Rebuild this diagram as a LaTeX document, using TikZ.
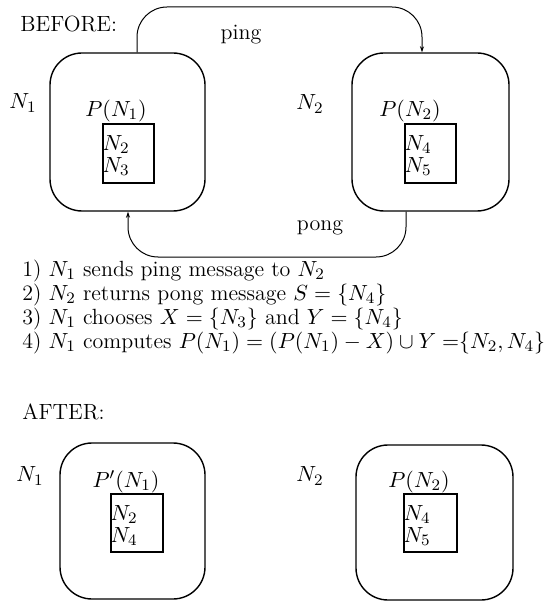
\documentclass[tikz,border=0pt]{standalone}
\usepackage{amsmath}
\usetikzlibrary{arrows.meta,positioning,calc}

\begin{document}
\begin{tikzpicture}[x=0.5pt,y=-0.5pt,
  every node/.style={font=\fontsize{11}{13}\selectfont},
  peer/.style={draw,line width=0.7pt,rounded corners=16pt,inner sep=0pt},
  view/.style={draw,line width=0.8pt,minimum width=25.5pt,
    minimum height=29.5pt,inner sep=0pt},
  ids/.style={anchor=north west,align=left,inner sep=0pt,
    font=\fontsize{11}{11}\selectfont},
  step line/.style={anchor=base west,inner sep=0pt},
  msg/.style={line width=0.5pt,rounded corners=15pt,
    -{Stealth[length=3pt,width=2pt]}}]
\useasboundingbox (0,0) rectangle (555,604);
% before
\node[anchor=west,inner sep=0pt] (before) at (20,23.5) {BEFORE:};
\node[peer,minimum width=77.5pt,minimum height=79pt] (p1) at (127.5,132) {};
\node[peer,minimum width=78.5pt,minimum height=79pt] (p2) at (430.5,132) {};
\node (n1) at (23,103) {$N_1$};
\node (n2) at (310,104) {$N_2$};
\node (l1) at (116,111) {$P(N_1)$};
\node (l2) at (410,111) {$P(N_2)$};
\node[view] (v1) at (128.5,153.5) {};
\node[view] (v2) at (430.5,153.5) {};
\node[ids] (m1) at ([yshift=-6pt]v1.north west) {$N_2$\\$N_3$};
\node[ids] (m2) at ([yshift=-6pt]v2.north west) {$N_4$\\$N_5$};
\coordinate (pingtop) at (280,7);
\coordinate (pongbot) at (270,257);
\draw[msg] ($(p1.north)+(9.5,0)$) |- (pingtop) -| ($(p2.north)+(-8.5,0)$);
\draw[msg] ($(p2.south)+(-24.5,0)$) |- (pongbot) -| ($(p1.south)+(0.5,0)$);
\node (ping) at (241,35) {ping};
\node (pong) at (320,228) {pong};
% steps
\node[step line] (s1) at (22,276) {1) $N_1$ sends ping message to $N_2$};
\node[step line] (s2) at (22,300) {2) $N_2$ returns pong message $S=\{N_4\}$};
\node[step line] (s3) at (22,324) {3) $N_1$ chooses $X=\{N_3\}$ and $Y=\{N_4\}$};
\node[step line] (s4) at (22,348)
  {4) $N_1$ computes $P(N_1)=(P(N_1)-X)\cup Y=${$\{N_2,N_4\}$}};
% after
\node[anchor=west,inner sep=0pt] (after) at (22,412) {AFTER:};
\node[peer,minimum width=72.5pt,minimum height=78pt] (q1) at (132.5,521) {};
\node[peer,minimum width=78.5pt,minimum height=77.5pt] (q2) at (434.5,522.5) {};
\node (n1b) at (30,476) {$N_1$};
\node (n2b) at (310,476) {$N_2$};
\node (k1) at (126,482) {$P'(N_1)$};
\node (k2) at (419,482) {$P(N_2)$};
\node[view,minimum width=26pt,minimum height=29pt] (w1) at (137,523) {};
\node[view,minimum width=26.5pt,minimum height=29pt] (w2) at (430.5,523) {};
\node[ids] (r1) at ([yshift=-6pt]w1.north west) {$N_2$\\$N_4$};
\node[ids] (r2) at ([yshift=-6pt]w2.north west) {$N_4$\\$N_5$};
\end{tikzpicture}
\end{document}
